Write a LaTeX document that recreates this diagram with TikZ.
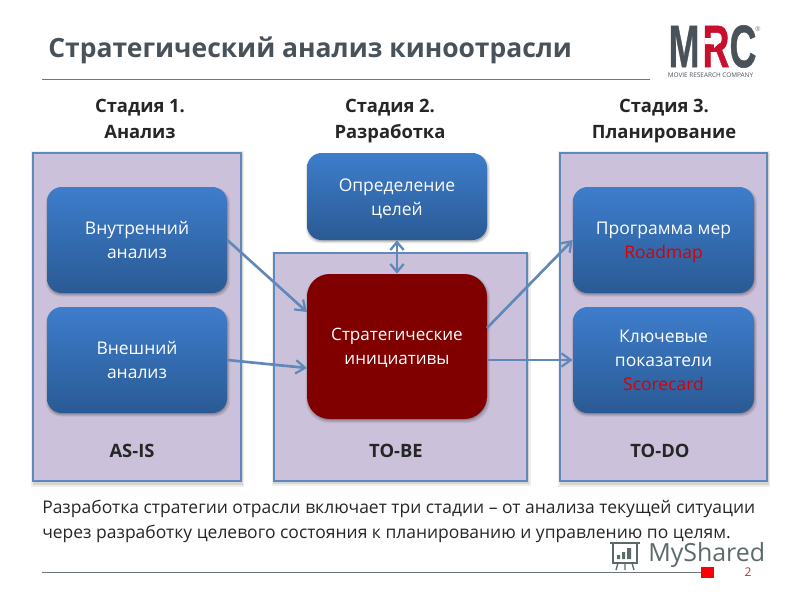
\documentclass[tikz,border=0pt]{standalone}
\usepackage{fontspec}
\setmainfont{Open Sans}
\newfontfamily\logofont[UprightFont=* Bold,FakeBold=1]{Liberation Sans}
\usetikzlibrary{arrows.meta,shadows}
\newcommand\balt{\rule{0pt}{1.05em}}
\newcommand\balb{\rule[-0.3em]{0pt}{.3em}}
\definecolor{panelfill}{HTML}{CCC1DA}
\definecolor{panelline}{HTML}{5F88BC}
\definecolor{arrowblue}{HTML}{6089BA}
\definecolor{bluetop}{HTML}{3E7DCC}
\definecolor{bluebot}{HTML}{2A5A94}
\definecolor{darkred}{HTML}{800000}
\definecolor{titlegrey}{HTML}{4A5259}
\definecolor{logored}{HTML}{C8102E}
\definecolor{wmgrey}{HTML}{5C6B6A}
\tikzset{
  softshadow/.style={
    general shadow={shadow xshift=.6pt,shadow yshift=-1.6pt,shadow scale=1.025,fill=black,opacity=.07},
    general shadow={shadow xshift=.6pt,shadow yshift=-1.4pt,shadow scale=1.012,fill=black,opacity=.10},
    general shadow={shadow xshift=.4pt,shadow yshift=-1pt,fill=black,opacity=.16}},
  panel/.style={draw=panelline,line width=1.7pt,fill=panelfill,softshadow,inner sep=0pt},
  bluebox/.style={rounded corners=11pt,top color=bluetop,bottom color=bluebot,draw=none,softshadow,
     text=white,align=center,font=\fontsize{13.1}{18}\selectfont,inner sep=0pt},
  redbox/.style={rounded corners=17pt,fill=darkred,draw=none,softshadow,
     text=white,align=center,font=\fontsize{12.8}{18}\selectfont,inner sep=0pt},
  stage/.style={align=center,font=\fontsize{13.8}{19.5}\selectfont\bfseries,text=black!85},
  tag/.style={font=\fontsize{13.8}{16}\selectfont\bfseries,text=black!85},
  link/.style={draw=arrowblue,line width=2pt,-{Straight Barb[length=7pt,width=10pt,line width=1.7pt]}},
  biglink/.style={draw=arrowblue,line width=2pt,{Straight Barb[length=6pt,width=10pt,line width=1.7pt]}-{Straight Barb[length=6pt,width=10pt,line width=1.7pt]}},
  rule/.style={draw=titlegrey!80,line width=.6pt},
  logoletter/.style={inner sep=0pt,xscale=.62,font=\fontsize{45}{50}\logofont},
}
\begin{document}
\begin{tikzpicture}[x=.75pt,y=-.75pt]
\useasboundingbox (0,0) rectangle (800,600);
\fill[white] (0,0) rectangle (800,600);
% title
\node[anchor=west,inner sep=0pt,text=titlegrey,font=\fontsize{19.85}{24}\selectfont\bfseries] (title) at (48,50.5) {Стратегический анализ киноотрасли};
\coordinate (rt1) at (42,79); \coordinate (rt2) at (650,79);
\draw[rule] (rt1) -- (rt2);
% logo
\node[logoletter,text=titlegrey] (logoM) at (684,46.5) {M};
\node[logoletter,text=logored] (logoR) at (716,46.5) {R};
\node[logoletter,text=titlegrey] (logoC) at (743,46.5) {C};
\node[inner sep=0pt,text=titlegrey!70,font=\fontsize{5}{6}\selectfont] (logoReg) at (758,29) {®};
\node[inner sep=0pt,text=titlegrey,font=\fontsize{4.8}{6}\selectfont] (logoT) at (710.5,75.5) {MOVIE RESEARCH COMPANY};
\fill[white] (705,38) -- (714,38) -- (714,34) -- (721,41) -- (714,48) -- (714,44) -- (705,44) -- cycle;
% stages
\node[stage] (st1) at (140,118.5) {\balt Стадия 1.\\Анализ\balb};
\node[stage] (st2) at (390,118.5) {\balt Стадия 2.\\Разработка\balb};
\node[stage] (st3) at (664,118.5) {\balt Стадия 3.\\Планирование\balb};
% panels
\node[panel,minimum width=156pt,minimum height=246pt] (p1) at (137,317) {};
\node[panel,minimum width=189.75pt,minimum height=171pt] (p2) at (400.5,367) {};
\node[panel,minimum width=155.25pt,minimum height=246pt] (p3) at (663.5,317) {};
\node[tag] (t1) at (132,451) {AS-IS};
\node[tag] (t2) at (396,451) {TO-BE};
\node[tag] (t3) at (660,451) {TO-DO};
% boxes
\node[bluebox,minimum width=135pt,minimum height=79.5pt] (b1) at (137,240) {\balt Внутренний\\анализ\balb};
\node[bluebox,minimum width=135pt,minimum height=79.5pt] (b2) at (137,360) {\balt Внешний\\анализ\balb};
\node[bluebox,minimum width=135pt,minimum height=65.25pt] (b3) at (397,196.5) {\balt Определение\\целей\balb};
\node[redbox,minimum width=135pt,minimum height=108.75pt] (r) at (397,346.5) {\balt Стратегические\\инициативы\balb};
\node[bluebox,minimum width=135.75pt,minimum height=79.5pt] (b4) at (663.5,240) {\balt Программа мер\\{\color{red!85!black}Roadmap}\balb};
\node[bluebox,minimum width=135.75pt,minimum height=79.5pt] (b5) at (663.5,360) {\balt Ключевые\\показатели\\{\color{red!85!black}Scorecard}\balb};
% connectors
\coordinate (s1) at (307,312);
\coordinate (s2) at (307,368);
\coordinate (s3) at (487,328);
\coordinate (s4) at (487,360);
\draw[link] (b1.east) -- (s1);
\draw[link] (b2.east) -- (s2);
\draw[biglink] (b3.south) -- (r.north);
\draw[link] (s3) -- (b4.west);
\draw[link] (s4) -- (b5.west);
% caption
\node[anchor=north west,inner sep=0pt,align=left,text=black!85,font=\fontsize{13.1}{18.75}\selectfont] (cap) at (42,499.5) {Разработка стратегии отрасли включает три стадии – от анализа текущей ситуации\\через разработку целевого состояния к планированию и управлению по целям.};
% footer
\coordinate (rb1) at (42,572.5); \coordinate (rb2) at (701,572.5);
\draw[rule] (rb1) -- (rb2);
\fill[red!90!purple] (701,567) rectangle (714,578);
\node[text=red!60!black!80,inner sep=0pt,font=\fontsize{9}{10}\selectfont] (pg) at (748,572.5) {2};
% watermark
\node[anchor=west,inner sep=0pt,text=wmgrey,font=\fontsize{18.7}{22}\selectfont] (ms) at (648,555) {MyShared};
\draw[wmgrey,line width=1.1pt] (613,543) rectangle (637,563);
\draw[wmgrey,line width=1.1pt] (610,543) -- (640,543);
\draw[wmgrey,line width=1pt] (618,563) -- (616,570) (632,563) -- (634,570) (625,563) -- (625,570);
\fill[wmgrey] (617,555) rectangle (620,559) (622,552) rectangle (625,559) (627,548) rectangle (631,559);
\end{tikzpicture}
\end{document}
